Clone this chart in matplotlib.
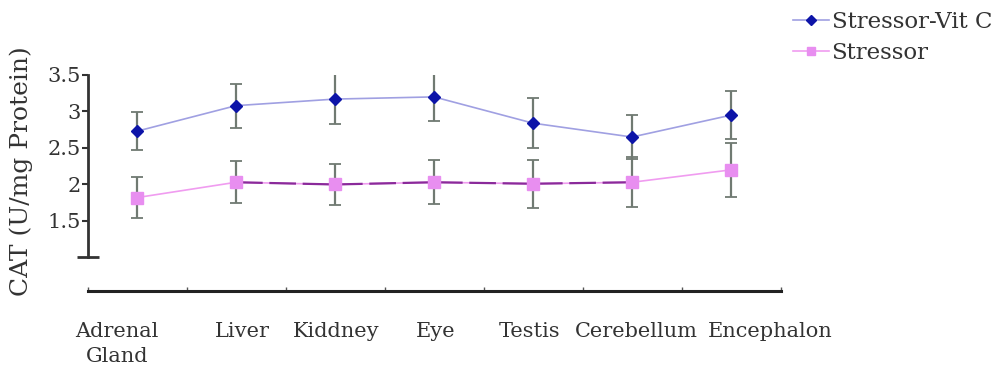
import numpy as np
import matplotlib
matplotlib.use("Agg")
import matplotlib.pyplot as plt
from matplotlib.lines import Line2D

plt.rcParams['font.family'] = ['DejaVu Serif']

# Data
organs = ["Adrenal\nGland", "Liver", "Kiddney", "Eye", "Testis", "Cerebellum", "Encephalon"]
vitc_mean = [2.73, 3.08, 3.17, 3.20, 2.84, 2.65, 2.95]
vitc_err = [0.26, 0.30, 0.34, 0.33, 0.34, 0.30, 0.33]
stress_mean = [1.82, 2.03, 2.00, 2.03, 2.01, 2.03, 2.20]
stress_err = [0.28, 0.29, 0.28, 0.30, 0.33, 0.34, 0.37]
yticks = [1.5, 2, 2.5, 3, 3.5]
series_names = ['Stressor-Vit C', 'Stressor']

x = np.arange(len(organs))

fig = plt.figure(figsize=(10, 3.75), dpi=100)
ax = fig.add_axes([0.0875, 0.224, 0.693, 0.576])

err_kw = dict(fmt='none', ecolor='#707a72', elinewidth=1.6, capsize=4, capthick=1.3, zorder=2)
ax.errorbar(x, vitc_mean, yerr=vitc_err, **err_kw)
ax.errorbar(x, stress_mean, yerr=stress_err, **err_kw)

ax.plot(x, vitc_mean, color='#a0a0e2', lw=1.2, zorder=3)
ax.plot(x, vitc_mean, ls='none', marker='D', ms=6, color='#0d14a8', zorder=4)
ax.plot(x, stress_mean, color='#f09cf0', lw=1.2, zorder=3)
# darker overlay segment as in the original print
ax.plot(x[1:6], stress_mean[1:6], color='#8a2a9a', lw=1.6, ls=(0, (12, 3)), zorder=3)
ax.plot(x, stress_mean, ls='none', marker='s', ms=8, color='#e88ef0', zorder=4)

ax.set_xlim(-0.5, 6.5)
ax.set_ylim(0.54, 3.5)

for s in ['top', 'right']:
    ax.spines[s].set_visible(False)
ax.spines['left'].set_bounds(1, 3.5)
ax.spines['left'].set_linewidth(2)
ax.spines['left'].set_color('#333333')
ax.spines['bottom'].set_linewidth(2.2)
ax.spines['bottom'].set_color('#222222')

ax.set_yticks(yticks)
ax.set_yticklabels([f"{t:g}" for t in yticks], fontsize=15, color='#333333')
ax.set_yticks([1], minor=True)
ax.tick_params(axis='y', which='major', length=4, width=1.5, pad=1, color='#333333')
ax.tick_params(axis='y', which='minor', direction='inout', length=16, width=2, color='#333333')

label_pos = [-0.2, 1.06, 2.01, 3.02, 3.97, 5.04, 6.4]
ax.set_xticks(label_pos)
ax.set_xticklabels(organs, fontsize=15, color='#333333', linespacing=1.45)
ax.set_xticks(np.arange(-0.5, 7, 1), minor=True)
ax.tick_params(axis='x', which='major', length=0, pad=22)
ax.tick_params(axis='x', which='minor', direction='in', length=3, width=1, color='#555555')
for lbl in ax.get_xticklabels():
    lbl.set_multialignment('center')

ax.set_ylabel("CAT (U/mg Protein)", fontsize=18, color='#333333')
ax.yaxis.set_label_coords(-0.078, 0.556)

handles = [Line2D([], [], color='#a0a0e2', lw=1.2, marker='D', ms=5, mfc='#0d14a8', mec='#0d14a8'),
           Line2D([], [], color='#f09cf0', lw=1.2, marker='s', ms=6, mfc='#e88ef0', mec='#e88ef0')]
fig.legend(handles, series_names, loc='upper left', bbox_to_anchor=(0.772, 1.025), frameon=False,
           fontsize=16.5, handlelength=1.6, handletextpad=0.1, labelspacing=0.4,
           labelcolor='#333333')

fig.savefig("out.png", dpi=100)
